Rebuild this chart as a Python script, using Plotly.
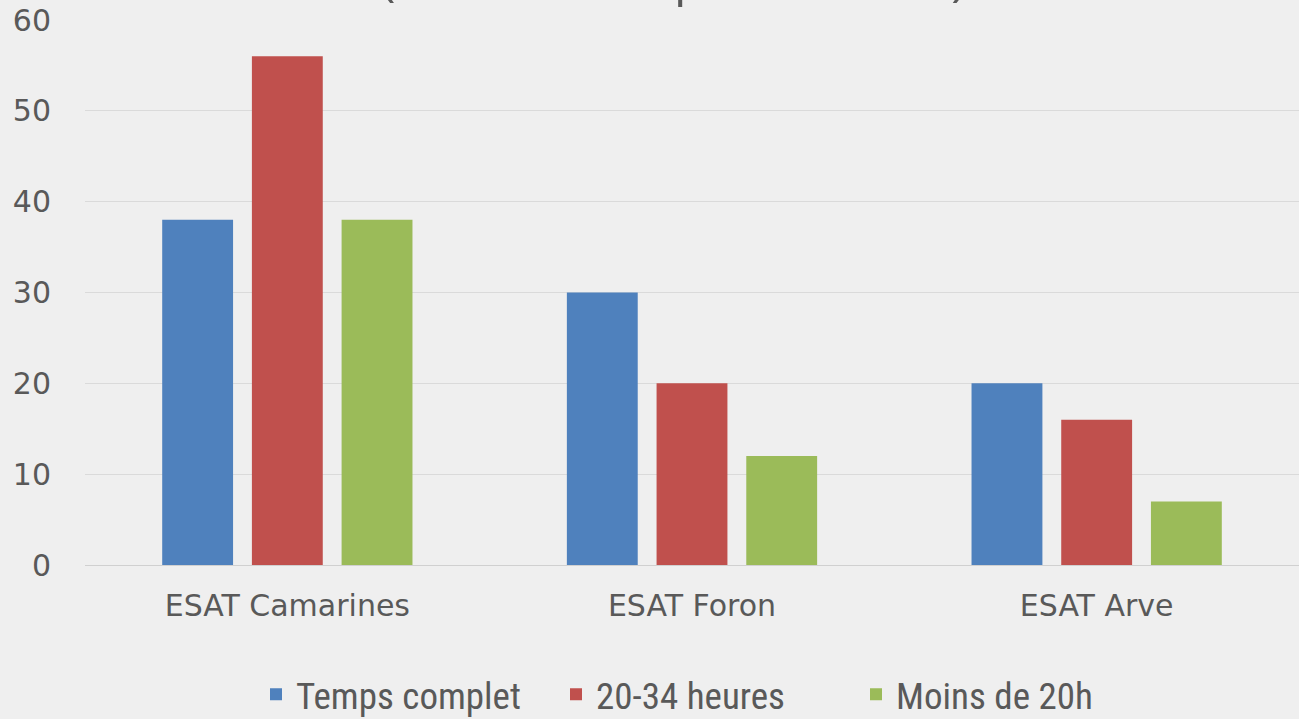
import plotly.graph_objects as go

categories = ["ESAT Camarines", "ESAT Foron", "ESAT Arve"]
series_names = ["Temps complet", "20-34 heures", "Moins de 20h"]
temps_complet = [38, 30, 20]
heures_20_34 = [56, 20, 16]
moins_20h = [38, 12, 7]
colors = ["#4F81BD", "#C0504D", "#9BBB59"]
y_ticks = [0, 10, 20, 30, 40, 50, 60]
title_text = "(selon le temps de travail)"

fig = go.Figure()
for name, vals, col in zip(series_names, [temps_complet, heures_20_34, moins_20h], colors):
    fig.add_trace(go.Bar(x=categories, y=vals, name=name,
                         marker=dict(color=col, line=dict(width=0))))

bg = "#EFEFEF"
fig.update_layout(
    width=1299, height=719,
    paper_bgcolor=bg, plot_bgcolor=bg,
    margin=dict(l=85, r=0, t=20, b=154, autoexpand=False),
    barmode="group", bargap=0.335, bargroupgap=0.21,
    showlegend=True,
    legend=dict(orientation="h", x=(256 - 85) / 1214, xanchor="left", y=-0.238, yanchor="middle",
                entrywidth=255, entrywidthmode="pixels",
                font=dict(family="Liberation Sans Narrow, Roboto Condensed, Liberation Sans", size=37, color="#595959"),
                itemwidth=30, bgcolor="rgba(0,0,0,0)", traceorder="normal"),
    xaxis=dict(showgrid=False, showline=False, zeroline=False,
               ticks="outside", ticklen=14, tickcolor="rgba(0,0,0,0)",
               tickfont=dict(family="DejaVu Sans", size=30, color="#595959")),
    yaxis=dict(range=[0, 60], tickvals=y_ticks, showgrid=True, gridcolor="#DADADA", gridwidth=1,
               zeroline=True, zerolinecolor="#D0D0D0", zerolinewidth=1, showline=False,
               ticks="outside", ticklen=27, tickcolor="rgba(0,0,0,0)",
               tickfont=dict(family="DejaVu Sans", size=30, color="#595959")),
)
fig.add_annotation(text=title_text, xref="paper", yref="paper", x=(673 - 85) / 1214, y=1,
                   xanchor="center", yanchor="bottom", yshift=9, showarrow=False,
                   font=dict(family="Open Sans", size=49, color="#595959"))
fig.write_html("out.html", config={"displayModeBar": False},
               post_script="document.body.style.margin='0';")
